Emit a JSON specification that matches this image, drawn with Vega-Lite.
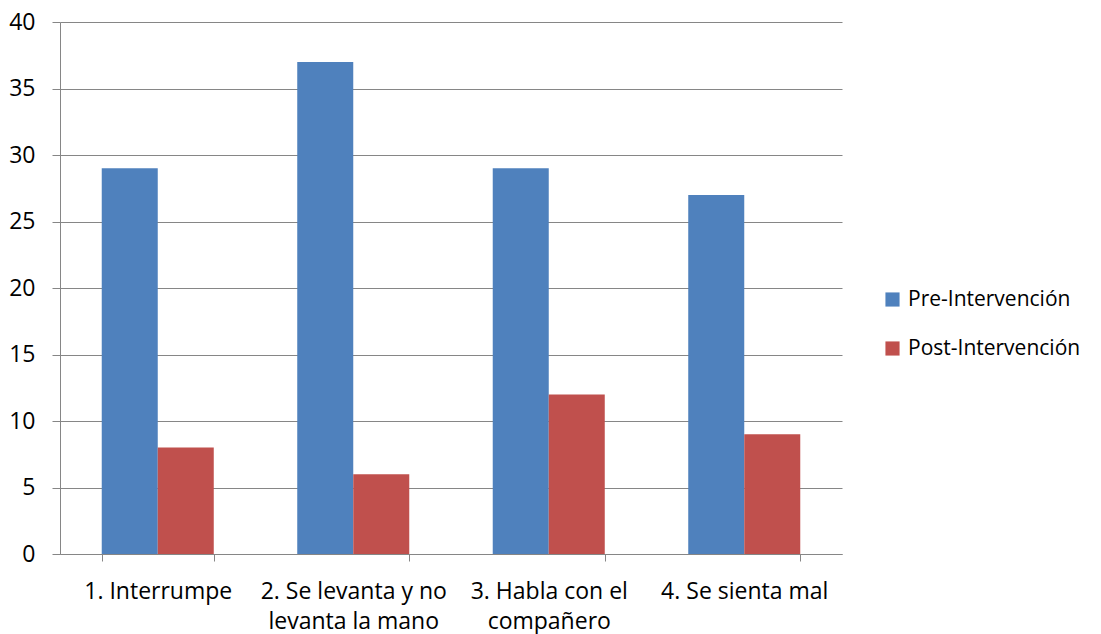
{
  "$schema": "https://vega.github.io/schema/vega-lite/v6.json",
  "autosize": {"type": "none"},
  "width": 782,
  "height": 532,
  "padding": {"left": 60, "top": 22, "right": 259, "bottom": 80},
  "background": "white",
  "config": {
    "font": "Open Sans",
    "view": {"stroke": null},
    "axis": {"labelFont": "Open Sans", "labelColor": "#000000", "labelFontSize": 23}
  },
  "data": {
    "values": [
      {"categoria": "1. Interrumpe", "serie": "Pre-Intervención", "valor": 29},
      {"categoria": "1. Interrumpe", "serie": "Post-Intervención", "valor": 8},
      {"categoria": "2. Se levanta y no levanta la mano", "serie": "Pre-Intervención", "valor": 37},
      {"categoria": "2. Se levanta y no levanta la mano", "serie": "Post-Intervención", "valor": 6},
      {"categoria": "3. Habla con el compañero", "serie": "Pre-Intervención", "valor": 29},
      {"categoria": "3. Habla con el compañero", "serie": "Post-Intervención", "valor": 12},
      {"categoria": "4. Se sienta mal", "serie": "Pre-Intervención", "valor": 27},
      {"categoria": "4. Se sienta mal", "serie": "Post-Intervención", "valor": 9}
    ]
  },
  "mark": {"type": "bar"},
  "encoding": {
    "x": {
      "field": "categoria",
      "type": "nominal",
      "sort": null,
      "title": null,
      "scale": {"paddingInner": 0.427, "paddingOuter": 0.2135},
      "axis": {
        "labelAngle": 0,
        "tickBand": "extent",
        "tickSize": 7,
        "tickColor": "#868686",
        "domainColor": "#868686",
        "labelPadding": 19,
        "labelLineHeight": 30,
        "labelLimit": 300,
        "labelExpr": "datum.value == '2. Se levanta y no levanta la mano' ? ['2. Se levanta y no', 'levanta la mano'] : datum.value == '3. Habla con el compañero' ? ['3. Habla con el', 'compañero'] : datum.value"
      }
    },
    "xOffset": {
      "field": "serie",
      "type": "nominal",
      "sort": ["Pre-Intervención", "Post-Intervención"],
      "scale": {"paddingInner": 0, "paddingOuter": 0}
    },
    "y": {
      "field": "valor",
      "type": "quantitative",
      "title": null,
      "scale": {"domain": [0, 40], "nice": false},
      "axis": {
        "values": [0, 5, 10, 15, 20, 25, 30, 35, 40],
        "tickSize": 8,
        "tickColor": "#868686",
        "domainColor": "#868686",
        "gridColor": "#868686",
        "grid": true,
        "labelPadding": 17
      }
    },
    "color": {
      "field": "serie",
      "type": "nominal",
      "sort": ["Pre-Intervención", "Post-Intervención"],
      "scale": {"domain": ["Pre-Intervención", "Post-Intervención"], "range": ["#4F81BD", "#C0504D"]},
      "legend": {
        "title": null,
        "orient": "none",
        "legendX": 822,
        "legendY": 267,
        "symbolType": "square",
        "symbolSize": 200,
        "symbolStrokeWidth": 0,
        "labelFont": "Open Sans",
        "labelFontSize": 21,
        "labelLimit": 300,
        "labelColor": "#000000",
        "labelOffset": 5,
        "rowPadding": 27
      }
    }
  }
}
